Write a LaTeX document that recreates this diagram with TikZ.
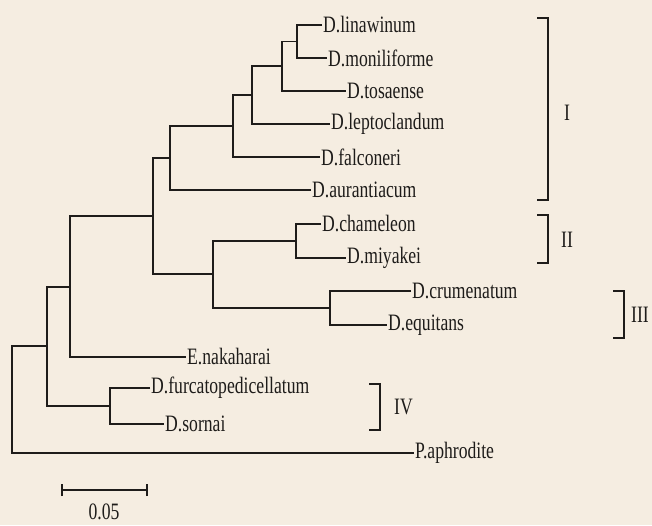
\documentclass[tikz,border=0pt]{standalone}
\usepackage{fontspec}
\setmainfont{Liberation Serif}[FakeStretch=0.75]
\definecolor{paper}{RGB}{245,237,225}
\definecolor{ink}{RGB}{30,28,26}
\begin{document}
\begin{tikzpicture}[x=1pt,y=-1pt,
  branch/.style={draw=ink,line width=1.9pt,line join=miter},
  taxon/.style={anchor=west,inner sep=1pt,text=ink,font=\fontsize{23.5}{26}\selectfont},
  grp/.style={anchor=west,inner sep=0pt,text=ink,font=\fontsize{23.5}{26}\selectfont}]
\fill[paper] (0,0) rectangle (652,525);
\useasboundingbox (0,0) rectangle (652,525);
% leaves
\node[taxon] (L1) at (322,25) {D.linawinum};
\node[taxon] (L2) at (327,58) {D.moniliforme};
\node[taxon] (L3) at (346,91) {D.tosaense};
\node[taxon] (L4) at (330,124) {D.leptoclandum};
\node[taxon] (L5) at (320,157) {D.falconeri};
\node[taxon] (L6) at (311,190) {D.aurantiacum};
\node[taxon] (L7) at (321,224) {D.chameleon};
\node[taxon] (L8) at (346,258) {D.miyakei};
\node[taxon] (L9) at (411,291) {D.crumenatum};
\node[taxon] (L10) at (387,325) {D.equitans};
\node[taxon] (L11) at (186,357) {E.nakaharai};
\node[taxon] (L12) at (150,388) {D.furcatopedicellatum};
\node[taxon] (L13) at (164,424) {D.sornai};
\node[taxon] (L14) at (414,453) {P.aphrodite};
% internal nodes
\coordinate (n1) at (297,41.5);
\coordinate (n2) at (282,66);
\coordinate (n3) at (252,95);
\coordinate (n4) at (233,126);
\coordinate (n5) at (170,158);
\coordinate (n6) at (296,241);
\coordinate (n7) at (330,308);
\coordinate (n8) at (213,274);
\coordinate (n9) at (153,216);
\coordinate (n10) at (70,287);
\coordinate (n11) at (110,406);
\coordinate (n12) at (47,346);
\coordinate (root) at (12,400);
% branches
\draw[branch] (L1.west) -| (n1) |- (L2.west);
\draw[branch] (n1) -| (n2) |- (L3.west);
\draw[branch] (n2) -| (n3) |- (L4.west);
\draw[branch] (n3) -| (n4) |- (L5.west);
\draw[branch] (n4) -| (n5) |- (L6.west);
\draw[branch] (L7.west) -| (n6) |- (L8.west);
\draw[branch] (L9.west) -| (n7) |- (L10.west);
\draw[branch] (n6) -| (n8) |- (n7);
\draw[branch] (n5) -| (n9) |- (n8);
\draw[branch] (n9) -| (n10) |- (L11.west);
\draw[branch] (L12.west) -| (n11) |- (L13.west);
\draw[branch] (n10) -| (n12) |- (n11);
\draw[branch] (n12) -| (root) |- (L14.west);
% group brackets
\draw[branch,line width=1.7pt] (537,18) -- (548,18) -- (548,200) -- (537,200);
\node[grp] (gI) at (564,113) {I};
\draw[branch,line width=1.7pt] (537,215) -- (548,215) -- (548,263) -- (537,263);
\node[grp] (gII) at (561,240) {II};
\draw[branch,line width=1.7pt] (613,291) -- (624,291) -- (624,338) -- (613,338);
\node[grp] (gIII) at (631,315) {III};
\draw[branch,line width=1.7pt] (369,384) -- (380,384) -- (380,430) -- (369,430);
\node[grp] (gIV) at (394,407) {IV};
% scale bar
\coordinate (s1) at (62,490);
\coordinate (s2) at (147,490);
\draw[branch] (s1) -- (s2);
\draw[branch] ([yshift=-6]s1) -- ([yshift=6]s1);
\draw[branch] ([yshift=-6]s2) -- ([yshift=6]s2);
\node[grp,anchor=center] (sl) at (104,512) {0.05};
\end{tikzpicture}
\end{document}
